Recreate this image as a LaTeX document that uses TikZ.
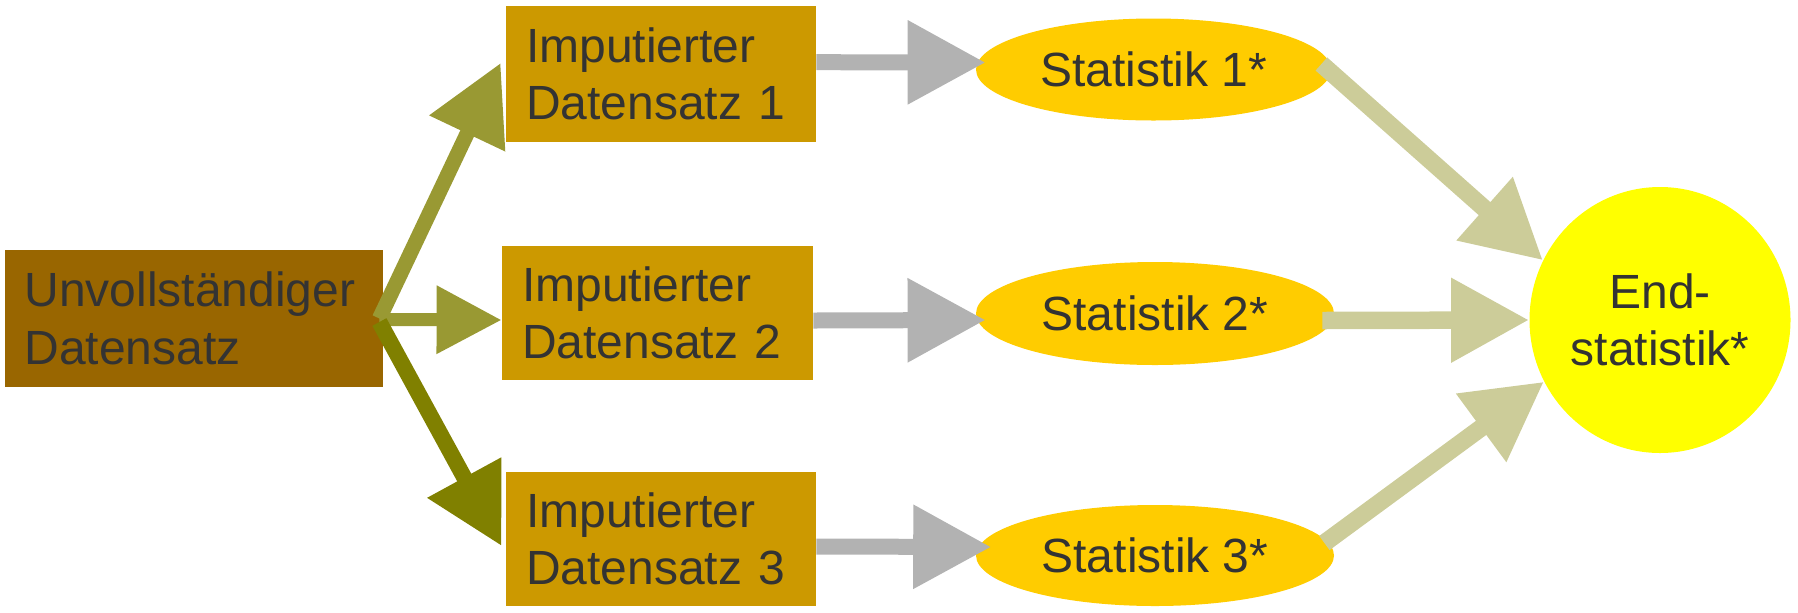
\documentclass[tikz,border=0pt]{standalone}
\usepackage{fontspec}
\setmainfont{Liberation Sans}
\usetikzlibrary{shapes.geometric,arrows.meta}
\definecolor{srcc}{HTML}{996600}
\definecolor{impc}{HTML}{CC9900}
\definecolor{statc}{HTML}{FFCC00}
\definecolor{endc}{HTML}{FFFF00}
\definecolor{txtc}{HTML}{333333}
\definecolor{oliveA}{HTML}{999933}
\definecolor{oliveB}{HTML}{808000}
\definecolor{grayc}{HTML}{B2B2B2}
\definecolor{beigec}{HTML}{CCCC99}
\tikzset{
  box/.style={rectangle, inner ysep=0pt, inner xsep=10pt, align=left, text=txtc,
    font=\fontsize{24pt}{28.75pt}\selectfont},
  oval/.style={ellipse, inner sep=0pt, align=center, text=txtc,
    font=\fontsize{24pt}{28.75pt}\selectfont},
  arr/.style={-{Triangle[length=39pt,width=40pt]}},
  oarrA/.style={arr, line width=7.5pt, draw=oliveA},
  oarrS/.style={line width=6.5pt, draw=oliveA, -{Triangle[length=32.5pt,width=32.5pt]}},
  oarrB/.style={arr, line width=8pt, draw=oliveB},
  garr/.style={arr, line width=8pt, draw=grayc},
  barr/.style={arr, line width=8.75pt, draw=beigec},
}
\begin{document}
\begin{tikzpicture}[x=0.5pt,y=-0.5pt]
\useasboundingbox (0,0) rectangle (1798,612);
% nodes
\node[box, fill=srcc, minimum height=68.5pt, text width=169pt] (src) at (193.5,318.5) {Unvollständiger\\Datensatz};
\node[box, fill=impc, minimum height=68.25pt, text width=135pt] (imp1) at (661,74) {Imputierter\\Datensatz 1};
\node[box, fill=impc, minimum height=67.3pt, text width=135.5pt] (imp2) at (657.5,313) {Imputierter\\Datensatz 2};
\node[box, fill=impc, minimum height=67pt, text width=135pt] (imp3) at (661,539) {Imputierter\\Datensatz 3};
\node[oval, fill=statc, minimum width=177.5pt, minimum height=51pt] (stat1) at (1153.5,69.5) {Statistik 1*};
\node[oval, fill=statc, minimum width=179pt, minimum height=51.5pt] (stat2) at (1155,313.5) {Statistik 2*};
\node[oval, fill=statc, minimum width=179pt, minimum height=50.5pt] (stat3) at (1155,555.5) {Statistik 3*};
\node[oval, fill=endc, minimum width=130.5pt, minimum height=133pt] (end) at (1660,320) {End-\\statistik*};
% olive arrows
\draw[oarrA] ([xshift=-1.75pt]src.east) -- ([xshift=-2.5pt,yshift=5.5pt]imp1.west);
\draw[oarrS] ([xshift=-1.75pt,yshift=-0.5pt]src.east) -- ([yshift=-3.5pt]imp2.west);
\draw[oarrB] ([xshift=-1.75pt,yshift=-1.75pt]src.east) -- ([xshift=-2pt,yshift=-3.5pt]imp3.west);
% gray arrows
\draw[garr] ([yshift=5.9pt]imp1.east) -- ([xshift=5pt,yshift=3.5pt]stat1.west);
\draw[garr] ([yshift=-3.75pt]imp2.east) -- ([xshift=5pt,yshift=-3.25pt]stat2.west);
\draw[garr] ([yshift=-3.75pt]imp3.east) -- ([xshift=7.8pt,yshift=4.25pt]stat3.west);
% beige arrows
\draw[barr] ([xshift=-5pt,yshift=2.75pt]stat1.east) -- (end.153);
\draw[barr] ([xshift=-6pt,yshift=-3.5pt]stat2.east) -- (end.west);
\draw[barr] ([xshift=-5pt,yshift=6.25pt]stat3.east) -- (end.208);
\end{tikzpicture}
\end{document}
